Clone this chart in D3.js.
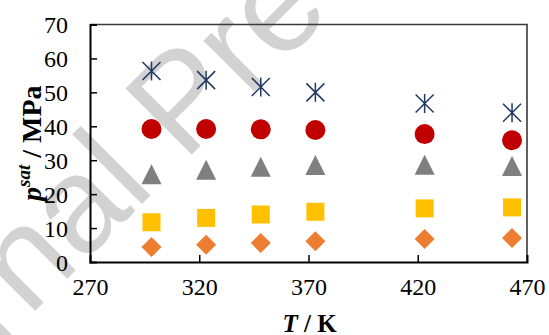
<!DOCTYPE html>
<html>
<head>
<meta charset="utf-8">
<script src="https://cdn.jsdelivr.net/npm/d3@7"></script>
<style>
  html, body { margin: 0; padding: 0; background: #fff; }
  svg { display: block; }
</style>
</head>
<body>
<svg id="chart" width="549" height="335"></svg>
<script>
// ---- data ----
const temperatures = [298.15, 323.15, 348.15, 373.15, 423.15, 463.15];
const seriesStar     = [56.3, 53.6, 51.6, 50.0, 46.7, 44.0];
const seriesCircle   = [39.2, 39.2, 39.1, 38.9, 37.7, 35.9];
const seriesTriangle = [25.9, 27.2, 28.1, 28.6, 28.7, 28.3];
const seriesSquare   = [11.7, 13.0, 14.0, 14.8, 15.8, 16.1];
const seriesDiamond  = [4.4, 5.1, 5.6, 6.1, 6.8, 7.1];
const xTicks = [270, 320, 370, 420, 470];
const yTicks = [0, 10, 20, 30, 40, 50, 60, 70];

const SERIF = "Liberation Serif";
const SANS = "Liberation Sans";

const svg = d3.select("#chart");
const W = 549, H = 335;
const margin = { left: 90, right: 22, top: 24.5, bottom: 73 };
const x = d3.scaleLinear().domain([270, 470]).range([margin.left, W - margin.right]);
const y = d3.scaleLinear().domain([0, 70]).range([H - margin.bottom, margin.top]);

// watermark (behind)
svg.append("text")
  .attr("transform", `translate(188,108) rotate(-45)`)
  .attr("text-anchor", "middle")
  .attr("dy", "0.26em")
  .attr("font-size", 136)
  .style("font-family", SANS)
  .attr("fill", "#d2d2d2")
  .text("Journal Pre-proof");

// plot border (top/right)
svg.append("path")
  .attr("d", `M${x(270)},${y(70)} H${x(470)} V${y(0)}`)
  .attr("fill", "none").attr("stroke", "#3a3a3a").attr("stroke-width", 1.6);

// axes
const xAxis = d3.axisBottom(x).tickValues(xTicks).tickSize(-7).tickPadding(16).tickFormat(d3.format("d"));
const gx = svg.append("g").attr("transform", `translate(0,${y(0)})`).call(xAxis);
const yAxis = d3.axisLeft(y).tickValues(yTicks).tickSize(-7).tickPadding(22).tickFormat(d3.format("d"));
const gy = svg.append("g").attr("transform", `translate(${x(270)},0)`).call(yAxis);
[gx, gy].forEach(g => {
  g.select(".domain").attr("stroke", "#000").attr("stroke-width", 2);
  g.selectAll(".tick line").attr("stroke", "#000").attr("stroke-width", 1.5);
  g.selectAll(".tick text").style("font-family", SERIF).attr("font-size", 24).attr("fill", "#000");
});
gx.selectAll(".tick line").filter(d => d === 270 || d === 470).remove();
gy.selectAll(".tick line").filter(d => d === 0 || d === 70).remove();
gy.selectAll(".tick text").attr("dy", "0.34em");

// markers
const pts = arr => arr.map((v, i) => ({ t: temperatures[i], v }));
const g = svg.append("g");

g.selectAll(".dia").data(pts(seriesDiamond)).join("path")
  .attr("transform", d => `translate(${x(d.t)},${y(d.v)})`)
  .attr("d", "M0,-10 L10,0 L0,10 L-10,0 Z").attr("fill", "#ED7D31");

g.selectAll(".sq").data(pts(seriesSquare)).join("rect")
  .attr("x", d => x(d.t) - 9).attr("y", d => y(d.v) - 9)
  .attr("width", 18).attr("height", 18).attr("fill", "#FFC000");

g.selectAll(".tri").data(pts(seriesTriangle)).join("path")
  .attr("transform", d => `translate(${x(d.t)},${y(d.v)})`)
  .attr("d", "M0,-10 L10,10 L-10,10 Z").attr("fill", "#7F7F7F");

g.selectAll(".circ").data(pts(seriesCircle)).join("circle")
  .attr("cx", d => x(d.t)).attr("cy", d => y(d.v)).attr("r", 10).attr("fill", "#C00000");

g.selectAll(".star").data(pts(seriesStar)).join("path")
  .attr("transform", d => `translate(${x(d.t)},${y(d.v)})`)
  .attr("d", "M-9,-9 L9,9 M9,-9 L-9,9 M0,-9.5 L0,9.5")
  .attr("fill", "none").attr("stroke", "#1F3864").attr("stroke-width", 1.5);

// axis titles
const xt = svg.append("text")
  .attr("x", (x(270) + x(470)) / 2 + 1).attr("y", 332)
  .attr("text-anchor", "middle")
  .style("font-family", SERIF)
  .attr("font-size", 25).attr("font-weight", "bold");
xt.append("tspan").attr("font-style", "italic").text("T");
xt.append("tspan").text(" / K");

const yt = svg.append("text")
  .attr("transform", `translate(41,${(y(0) + y(70)) / 2}) rotate(-90)`)
  .attr("text-anchor", "middle")
  .style("font-family", SERIF)
  .attr("font-size", 28).attr("font-weight", "bold");
yt.append("tspan").attr("font-style", "italic").text("p");
yt.append("tspan").attr("font-style", "italic").attr("font-size", 19).attr("dy", -11).text("sat");
yt.append("tspan").attr("dy", 11).text(" / MPa");
</script>
</body>
</html>
